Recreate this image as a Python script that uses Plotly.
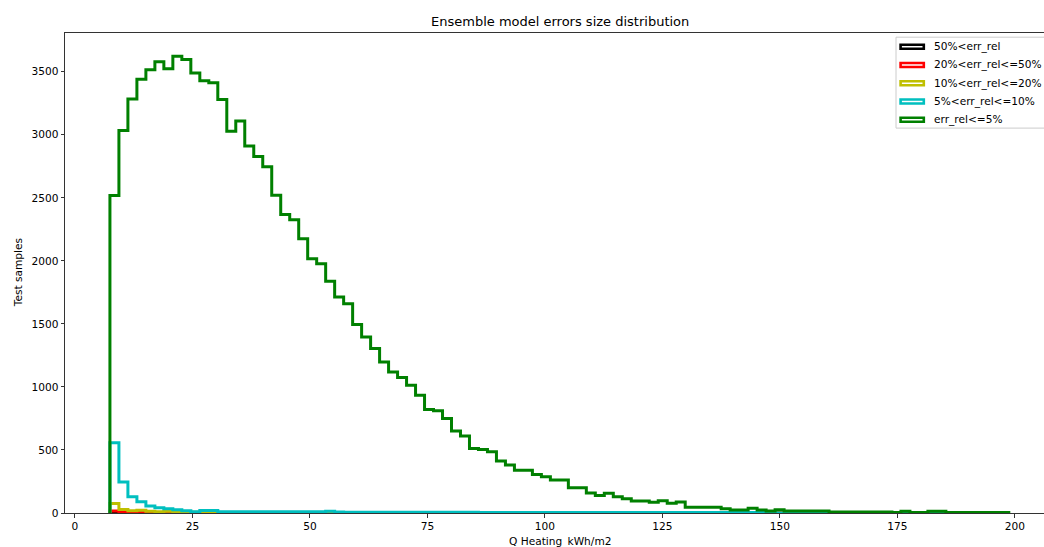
import numpy as np
import plotly.graph_objects as go

# ---------------- data ----------------
bin_start = 7.45
bin_width = 1.9125
n_bins = 100

series_names = ["50%<err_rel", "20%<err_rel<=50%", "10%<err_rel<=20%",
                "5%<err_rel<=10%", "err_rel<=5%"]
series_colors = ["#000000", "#ff0000", "#bfbf00", "#00bfbf", "#008000"]

counts_gt50 = [3, 1] + [0] * 98
counts_20_50 = [15, 3, 2, 1, 1] + [0] * 95
counts_10_20 = [75, 28, 17, 22, 14, 10, 14, 12, 8, 6, 4, 3, 2, 2, 1, 1, 1] + [0] * 83
counts_5_10 = ([557, 245, 129, 90, 55, 42, 34, 26, 18, 10, 20, 20]
               + [10] * 12 + [14, 8] + [5] * 15 + [3] * 33 + [0] * 26)
counts_le5 = [2518, 3033, 3283, 3441, 3515, 3579, 3523, 3623, 3597, 3489,
              3428, 3412, 3280, 3028, 3110, 2911, 2827, 2747, 2520, 2367,
              2325, 2175, 2016, 1977, 1839, 1713, 1660, 1496, 1396, 1304,
              1198, 1119, 1074, 1013, 934, 821, 810, 749, 651, 610,
              512, 504, 485, 412, 380, 340, 340, 306, 288, 261,
              261, 200, 200, 158, 138, 156, 129, 113, 95, 95,
              85, 97, 77, 87, 45, 45, 45, 45, 34, 24,
              24, 37, 24, 16, 26, 16, 16, 16, 16, 16,
              8, 8, 8, 8, 8, 8, 8, 4, 14, 4,
              4, 14, 14, 3, 3, 3, 3, 3, 3, 3]

all_counts = [counts_gt50, counts_20_50, counts_10_20, counts_5_10, counts_le5]

x_ticks = [0, 25, 50, 75, 100, 125, 150, 175, 200]
y_ticks = [0, 500, 1000, 1500, 2000, 2500, 3000, 3500]

title_text = "Ensemble model errors size distribution"
x_label = "Q Heating_kWh/m2"
y_label = "Test samples"

# ---------------- layout geometry (pixels) ----------------
FIG_W, FIG_H = 1044, 547
PL, PR = 65, 1044        # plot area left/right in px
PT, PB = 32.5, 513       # plot area top/bottom in px
PX_PER_UNIT = 4.7
x_lo = -2.11
x_hi = x_lo + (PR - PL) / PX_PER_UNIT
y_hi = 3807

FONT = "DejaVu Sans"
FS = 10.6
FS_TITLE = 13


def px_x(px):
    return (px - PL) / (PR - PL)


def px_y(py):
    return (PB - py) / (PB - PT)


edges = bin_start + bin_width * np.arange(n_bins + 1)

fig = go.Figure()
for name, color, counts in zip(series_names, series_colors, all_counts):
    c = np.asarray(counts, dtype=float)
    xs = np.concatenate([[edges[0]], edges[:-1], [edges[-1]]])
    ys = np.concatenate([[0.0], c, [0.0]])
    fig.add_trace(go.Scatter(
        x=xs, y=ys, mode="lines", name=name,
        line=dict(color=color, width=3, shape="hv"),
        showlegend=False, hoverinfo="skip"))

fig.update_layout(
    width=FIG_W, height=FIG_H,
    margin=dict(l=PL, r=FIG_W - PR, t=PT, b=FIG_H - PB, pad=0),
    plot_bgcolor="white", paper_bgcolor="white",
    font=dict(family=FONT, size=FS, color="#000000"),
    showlegend=False,
)
fig.update_xaxes(
    range=[x_lo, x_hi], tickmode="array", tickvals=x_ticks,
    ticktext=[str(v) for v in x_ticks],
    showgrid=False, zeroline=False,
    showline=True, linecolor="#333333", linewidth=1, mirror=True,
    ticks="outside", ticklen=3.5, tickwidth=1, tickcolor="#333333",
    tickfont=dict(family=FONT, size=FS, color="#000000"),
)
fig.update_yaxes(
    range=[0, y_hi], tickmode="array", tickvals=y_ticks,
    ticktext=[str(v) for v in y_ticks],
    showgrid=False, zeroline=False,
    showline=True, linecolor="#333333", linewidth=1, mirror=False,
    ticks="outside", ticklen=3.5, tickwidth=1, tickcolor="#333333",
    tickfont=dict(family=FONT, size=FS, color="#000000"),
)

annotations = []
# title
annotations.append(dict(text=title_text, xref="paper", yref="paper",
                        x=px_x(559.5), y=px_y(20.5), xanchor="center", yanchor="middle",
                        showarrow=False, font=dict(family=FONT, size=FS_TITLE, color="#000000")))
# axis labels
annotations.append(dict(text=x_label, xref="paper", yref="paper",
                        x=px_x(559.5), y=px_y(542), xanchor="center", yanchor="middle",
                        showarrow=False, font=dict(family=FONT, size=FS, color="#000000")))
annotations.append(dict(text=y_label, xref="paper", yref="paper",
                        x=px_x(18), y=px_y(273), xanchor="center", yanchor="middle",
                        textangle=-90, showarrow=False,
                        font=dict(family=FONT, size=FS, color="#000000")))

# legend (drawn manually to mimic rectangle patches)
shapes = []
shapes.append(dict(type="rect", xref="paper", yref="paper",
                   x0=px_x(896), x1=px_x(1049), y0=px_y(127.7), y1=px_y(36.7),
                   line=dict(color="#cccccc", width=1),
                   fillcolor="rgba(255,255,255,0.8)", layer="above"))
row_y0 = 46.2
row_dy = 18.3
for i, (name, color) in enumerate(zip(series_names, series_colors)):
    cy = row_y0 + i * row_dy
    shapes.append(dict(type="rect", xref="paper", yref="paper",
                       x0=px_x(900.6), x1=px_x(923.8),
                       y0=px_y(cy + 2.0), y1=px_y(cy - 2.0),
                       line=dict(color=color, width=2.6),
                       fillcolor="rgba(0,0,0,0)", layer="above"))
    annotations.append(dict(text=name, xref="paper", yref="paper",
                            x=px_x(932), y=px_y(cy), xanchor="left", yanchor="middle",
                            showarrow=False,
                            font=dict(family=FONT, size=FS, color="#000000")))

fig.update_layout(annotations=annotations, shapes=shapes)

fig.write_html("out.html")
